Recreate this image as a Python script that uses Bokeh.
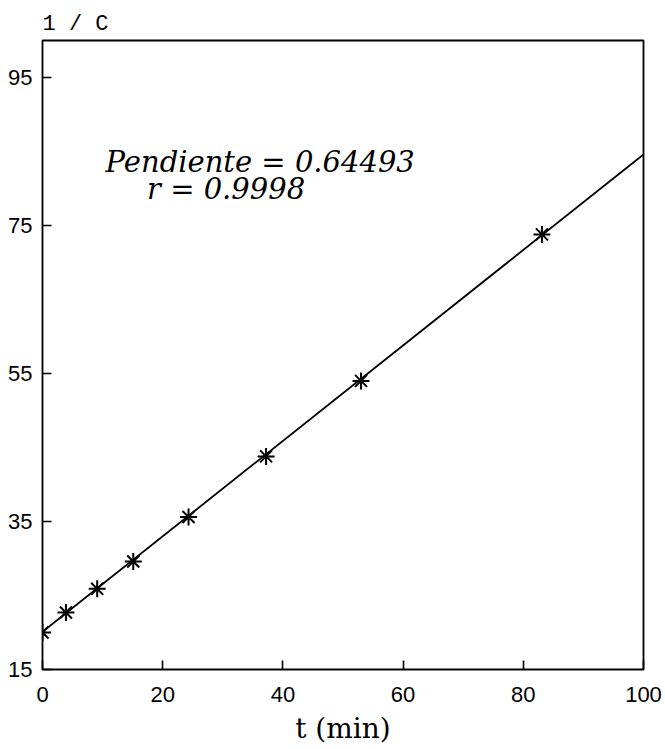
from bokeh.plotting import figure
from bokeh.models import FixedTicker, Label
from bokeh.embed import file_html
from bokeh.resources import INLINE

# data
t_min = [0.0, 3.9, 9.1, 15.1, 24.3, 37.2, 53.0, 83.1]
inv_c = [20.0, 22.7, 25.9, 29.6, 35.6, 43.8, 54.0, 73.8]
fit_t = [0.0, 100.0]
fit_y = [20.1, 84.6]
x_ticks = [0, 20, 40, 60, 80, 100]
y_ticks = [15, 35, 55, 75, 95]
slope_text = "Pendiente = 0.64493"
r_text = "r = 0.9998"

p = figure(width=665, height=749, x_range=(0, 100), y_range=(15, 100),
           output_backend="svg", toolbar_location=None,
           min_border_left=42, min_border_right=22, min_border_top=40,
           min_border_bottom=80, title="1 / C")

p.title.text_font = "Liberation Mono"
p.title.text_font_size = "22px"
p.title.text_font_style = "normal"
p.title.text_color = "black"
p.title.align = "left"
p.title.offset = 0
p.title.standoff = 8

p.xgrid.visible = False
p.ygrid.visible = False
p.outline_line_color = "black"
p.outline_line_width = 1.8
p.background_fill_color = "white"
p.border_fill_color = "white"

for ax in (p.xaxis, p.yaxis):
    ax.axis_line_color = None
    ax.major_tick_in = 9
    ax.major_tick_out = 0
    ax.minor_tick_line_color = None
    ax.major_tick_line_color = "black"
    ax.major_tick_line_width = 1.6
    ax.major_label_text_font = "Liberation Sans"
    ax.major_label_text_font_size = "22px"
    ax.major_label_text_color = "black"

p.xaxis.ticker = FixedTicker(ticks=x_ticks)
p.yaxis.ticker = FixedTicker(ticks=y_ticks)
p.xaxis.major_label_standoff = 17
p.yaxis.major_label_standoff = 10

p.xaxis.axis_label = "t (min)"
p.xaxis.axis_label_text_font = "DejaVu Serif"
p.xaxis.axis_label_text_font_size = "28px"
p.xaxis.axis_label_text_font_style = "normal"
p.xaxis.axis_label_text_color = "black"
p.xaxis.axis_label_standoff = 7

p.line(fit_t, fit_y, line_color="black", line_width=1.8)
p.scatter(t_min, inv_c, marker="asterisk", size=17, line_color="black", line_width=2)

p.add_layout(Label(x=10.5, y=83.6, text=slope_text, text_font="DejaVu Serif",
                   text_font_style="italic", text_font_size="29px",
                   text_baseline="alphabetic", text_color="black"))
p.add_layout(Label(x=17.4, y=79.9, text=r_text, text_font="DejaVu Serif",
                   text_font_style="italic", text_font_size="29px",
                   text_baseline="alphabetic", text_color="black"))

open("out.html", "w").write(file_html(p, INLINE))
